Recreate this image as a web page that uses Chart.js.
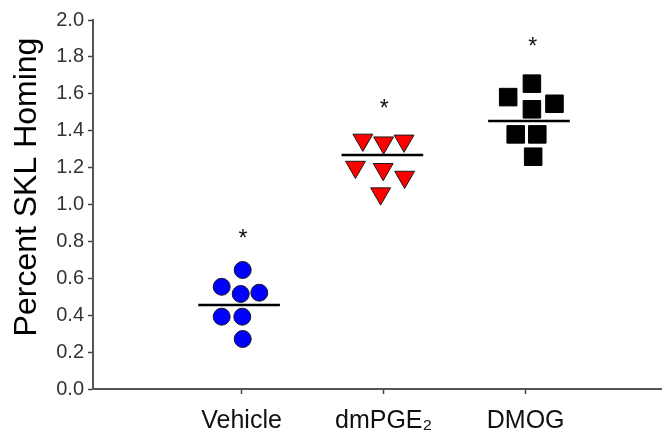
<!DOCTYPE html>
<html lang="en">
<head>
    <meta charset="UTF-8">
    <title>Percent SKL Homing</title>
    <script src="https://cdn.jsdelivr.net/npm/chart.js"></script>
    <style>
        body { margin: 0; background: #fff; }
        .grafico { position: relative; width: 662px; height: 444px; }
    </style>
</head>
<body>
    <div class="grafico">
        <canvas id="grafico_homing"></canvas>
    </div>
<script>

// valores
const categorias = ['Vehicle', 'dmPGE₂', 'DMOG'];
const posicoes = [1, 2, 3];

const vehicleX = [1.008, 0.86, 0.994, 1.125, 0.86, 1.005, 1.008];
const vehicleY = [0.645, 0.554, 0.515, 0.522, 0.392, 0.392, 0.271];

const pgeX = [1.854, 2.0, 2.144, 1.802, 1.997, 2.148, 1.979];
const pgeY = [1.35, 1.335, 1.345, 1.203, 1.191, 1.149, 1.059];

const dmogX = [3.044, 2.877, 3.203, 3.044, 2.93, 3.082, 3.053];
const dmogY = [1.655, 1.582, 1.546, 1.516, 1.38, 1.38, 1.259];

const mediaY = [0.455, 1.268, 1.453];
const mediaInicio = [0.695, 1.704, 2.736];
const mediaFim = [1.27, 2.279, 3.311];

const asteriscoX = [1.01, 2.004, 3.05];
const asteriscoY = [0.846, 1.548, 1.888];

const ticksY = [0, 0.2, 0.4, 0.6, 0.8, 1.0, 1.2, 1.4, 1.6, 1.8, 2.0];

function pontos(xs, ys) {
    return xs.map((x, i) => ({ x: x, y: ys[i] }));
}

// linhas da media (primeiro no array = desenhadas por cima)
const linhasMedia = mediaY.map((m, i) => ({
    type: 'line',
    data: [{ x: mediaInicio[i], y: m }, { x: mediaFim[i], y: m }],
    borderColor: '#000',
    borderWidth: 2.5,
    pointRadius: 0,
    showLine: true,
    fill: false
}));

const datasets = linhasMedia.concat([
    {
        label: 'Vehicle',
        data: pontos(vehicleX, vehicleY),
        pointStyle: 'circle',
        pointRadius: 8.5,
        backgroundColor: '#0000ff',
        borderColor: '#1a1a1a',
        borderWidth: 1
    },
    {
        label: 'dmPGE2',
        data: pontos(pgeX, pgeY),
        pointStyle: 'triangle',
        rotation: 180,
        pointRadius: 11.5,
        backgroundColor: '#ff0000',
        borderColor: '#1a1a1a',
        borderWidth: 1
    },
    {
        label: 'DMOG',
        data: pontos(dmogX, dmogY),
        pointStyle: 'rect',
        pointRadius: 12.4,
        backgroundColor: '#000',
        borderColor: '#000',
        borderWidth: 1
    }
]);

// asteriscos e titulo do eixo y
const extras = {
    id: 'extras',
    afterDatasetsDraw(chart) {
        const ctx = chart.ctx;
        const sx = chart.scales.x;
        const sy = chart.scales.y;
        ctx.save();
        ctx.fillStyle = '#111';
        ctx.font = '23px Arial, "Liberation Sans", sans-serif';
        ctx.textAlign = 'center';
        ctx.textBaseline = 'alphabetic';
        asteriscoX.forEach((x, i) => {
            ctx.fillText('*', sx.getPixelForValue(x), sy.getPixelForValue(asteriscoY[i]) + 13);
        });

        ctx.translate(27, 187);
        ctx.rotate(-Math.PI / 2);
        ctx.font = '32px Arial, "Liberation Sans", sans-serif';
        ctx.fillStyle = '#000';
        ctx.textBaseline = 'middle';
        ctx.fillText('Percent SKL Homing', 0, 0);
        ctx.restore();
    }
};

const config_homing = {
    type: 'scatter',
    data: { datasets: datasets },
    options: {
        responsive: true,
        maintainAspectRatio: false,
        animation: false,
        layout: {
            autoPadding: false,
            padding: { left: 0, right: 0, top: 20, bottom: 0 }
        },
        plugins: {
            legend: { display: false },
            tooltip: { enabled: false }
        },
        scales: {
            x: {
                type: 'linear',
                min: -0.046,
                max: 3.96,
                afterBuildTicks: (scale) => {
                    scale.ticks = posicoes.map(v => ({ value: v }));
                },
                afterFit: (scale) => {
                    scale.height = 55;
                    scale.paddingLeft = 0;
                    scale.paddingRight = 0;
                },
                ticks: {
                    callback: (v) => categorias[posicoes.indexOf(v)],
                    color: '#111',
                    font: { family: 'Arial, "Liberation Sans", sans-serif', size: 25 },
                    padding: 12,
                    maxRotation: 0,
                    autoSkip: false
                },
                grid: {
                    drawOnChartArea: false,
                    drawTicks: true,
                    tickLength: 5,
                    tickColor: '#444',
                    tickWidth: 1.5
                },
                border: { color: '#555', width: 2 }
            },
            y: {
                min: 0,
                max: 2,
                afterBuildTicks: (scale) => {
                    scale.ticks = ticksY.map(v => ({ value: v }));
                },
                afterFit: (scale) => {
                    scale.width = 93;
                    scale.paddingTop = 0;
                    scale.paddingBottom = 0;
                },
                ticks: {
                    callback: (v) => v.toFixed(1),
                    color: '#333',
                    font: { family: 'Arial, "Liberation Sans", sans-serif', size: 20 },
                    padding: 4
                },
                grid: {
                    drawOnChartArea: false,
                    drawTicks: true,
                    tickLength: 5,
                    tickColor: '#444',
                    tickWidth: 1.5
                },
                border: { color: '#555', width: 2 }
            }
        }
    },
    plugins: [extras]
};

const GraficoHoming = new Chart(
    document.getElementById('grafico_homing'),
    config_homing
);

</script>
</body>
</html>
